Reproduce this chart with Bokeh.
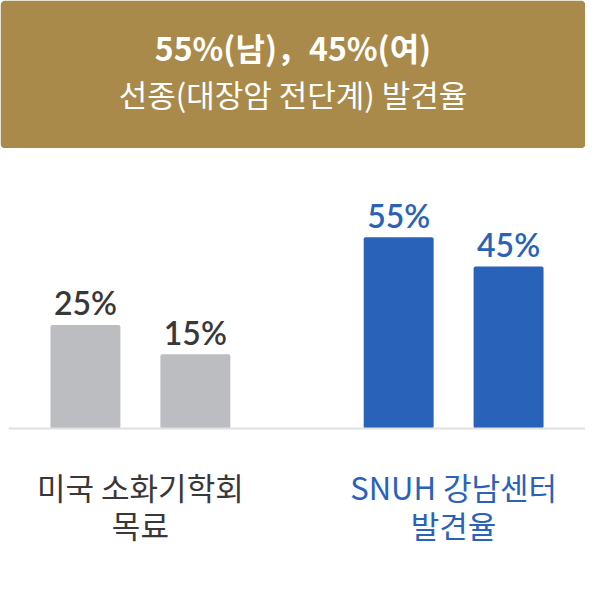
from bokeh.plotting import figure
from bokeh.models import FactorRange, Range1d, Span, ColumnDataSource
from bokeh.layouts import column
from bokeh.core.properties import value
from bokeh.embed import file_html
from bokeh.resources import INLINE

# ---- data ----
title_lines = ["55%(남)，45%(여)", "선종(대장암 전단계) 발견율"]
groups = ["미국 소화기학회 목료", "SNUH 강남센터 발견율"]
sexes = ["남", "여"]
us_guideline = [25, 15]
snuh_found = [55, 45]

# ---- styles ----
GOLD = "#a98a4a"
BAR_COLORS = ["#bcbdc1", "#2962b9"]
TEXT_COLORS = ["#383838", "#2a62b9"]
KR = value("Noto Sans CJK KR")

W = 585
HEAD_H = 148
CHART_H = 451

# ---- header ----
h = figure(width=W, height=HEAD_H, x_range=Range1d(0, 1), y_range=Range1d(HEAD_H, 0),
           output_backend="svg", toolbar_location=None, min_border=0,
           x_axis_location=None, y_axis_location=None)
h.frame_align = False
h.grid.visible = False
h.outline_line_color = None
h.background_fill_color = "white"
h.border_fill_color = "white"
h.quad(left=0, right=1, top=0, bottom=HEAD_H, fill_color=GOLD, line_color=None, border_radius=5)
h.text(x=[0.5], y=[46.5], text=[title_lines[0]], text_align="center", text_baseline="middle",
       text_font=KR, text_font_style="bold", text_font_size="32px", text_color="white")
h.text(x=[0.5], y=[92.5], text=[title_lines[1]], text_align="center", text_baseline="middle",
       text_font=KR, text_font_size="31px", text_color="white")

# ---- chart ----
factors = [(g, s) for g in groups for s in sexes]
vals = us_guideline + snuh_found
src = ColumnDataSource(dict(
    x=factors,
    top=vals,
    label=[f"{v}%" for v in vals],
    color=[BAR_COLORS[0]] * 2 + [BAR_COLORS[1]] * 2,
    tcolor=[TEXT_COLORS[0]] * 2 + [TEXT_COLORS[1]] * 2,
))

BASE = -10.4          # value at the baseline of the bars
K = 2.925             # pixels per percentage point
y0 = BASE - 171 / K
xr = FactorRange(*factors, factor_padding=0.1, group_padding=1.035,
                 range_padding=0.27, range_padding_units="absolute")
p = figure(width=W, height=CHART_H, x_range=xr, y_range=Range1d(y0, y0 + CHART_H / K),
           output_backend="svg", toolbar_location=None, min_border=0, min_border_left=8,
           x_axis_location=None, y_axis_location=None)
p.frame_align = False
p.grid.visible = False
p.outline_line_color = None
p.background_fill_color = "white"
p.border_fill_color = "white"

p.vbar(x="x", top="top", bottom=BASE, width=0.7, fill_color="color", line_color=None,
       source=src, border_radius=2)
p.add_layout(Span(location=BASE, dimension="width", line_color="#e0e0e0", line_width=2))
p.text(x="x", y="top", text="label", y_offset=-22, text_align="center",
       text_baseline="alphabetic", text_font=value("Lato Semibold"), text_font_size="32px",
       text_color="tcolor", source=src)

line1 = [g.rsplit(" ", 1)[0] for g in groups]
line2 = [g.rsplit(" ", 1)[1] for g in groups]
p.text(x=groups, y=[BASE] * 2, text=line1, y_offset=58, text_align="center",
       text_baseline="middle", text_font=KR, text_font_size="31px", text_color=TEXT_COLORS)
p.text(x=groups, y=[BASE] * 2, text=line2, y_offset=96, text_align="center",
       text_baseline="middle", text_font=KR, text_font_size="31px", text_color=TEXT_COLORS)

layout = column(h, p, spacing=0)
open("out.html", "w").write(file_html(layout, INLINE))
